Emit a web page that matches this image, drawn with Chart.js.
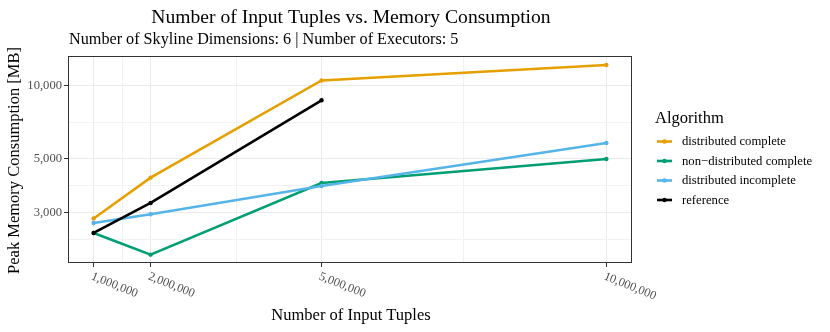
<!DOCTYPE html>
<html><head><meta charset="utf-8">
<script src="https://cdn.jsdelivr.net/npm/chart.js@4/dist/chart.umd.min.js"></script>
<style>html,body{margin:0;padding:0;background:#fff;}#wrap{width:830px;height:332px;}</style>
</head><body><div id="wrap"><canvas id="c" width="830" height="332"></canvas></div>
<script>
// ---- data ----
const tuples = [1000000, 2000000, 5000000, 10000000];
const distributedComplete = [2840, 4180, 10500, 12150];
const nonDistributedComplete = [2475, 2015, 3975, 4990];
const distributedIncomplete = [2720, 2955, 3865, 5805];
const referenceAlg = [2475, 3290, 8700];
const seriesNames = ['distributed complete', 'non\u2212distributed complete', 'distributed incomplete', 'reference'];
const seriesColors = ['#E69F00', '#009E73', '#56B4E9', '#000000'];
const xTickValues = [1000000, 2000000, 5000000, 10000000];
const xTickLabels = ['1,000,000', '2,000,000', '5,000,000', '10,000,000'];
const yTickValues = [3000, 5000, 10000];
const yTickLabels = ['3,000', '5,000', '10,000'];
const titleText = 'Number of Input Tuples vs. Memory Consumption';
const subtitleText = 'Number of Skyline Dimensions: 6 | Number of Executors: 5';
const xTitle = 'Number of Input Tuples';
const yTitle = 'Peak Memory Consumption [MB]';
const legendTitle = 'Algorithm';

const SERIF = '"Liberation Serif", "DejaVu Serif", serif';
const seriesValues = [distributedComplete, nonDistributedComplete, distributedIncomplete, referenceAlg];

// minor breaks (ggplot style: midpoints between majors in transformed space)
const xMinor = [];
for (let i = 0; i < xTickValues.length - 1; i++) xMinor.push((xTickValues[i] + xTickValues[i + 1]) / 2);
const yMinor = [];
{
  const lg = yTickValues.map(v => Math.log10(v));
  const below = lg[0] - (lg[1] - lg[0]);
  yMinor.push(Math.pow(10, (below + lg[0]) / 2));
  for (let i = 0; i < lg.length - 1; i++) yMinor.push(Math.pow(10, (lg[i] + lg[i + 1]) / 2));
}
const xAll = xTickValues.concat(xMinor).sort((a, b) => a - b);
const yAll = yTickValues.concat(yMinor).sort((a, b) => a - b);

const datasets = seriesValues.map((vals, i) => ({
  label: seriesNames[i],
  data: vals.map((v, j) => ({ x: tuples[j], y: v })),
  borderColor: seriesColors[i],
  backgroundColor: seriesColors[i],
  borderWidth: 2.6,
  pointRadius: 2.2,
  pointBorderWidth: 0,
  tension: 0,
  order: 3 - i
}));

const isMajorX = v => xTickValues.includes(v);
const isMajorY = v => yTickValues.some(t => Math.abs(t - v) < 1e-6);

const decorPlugin = {
  id: 'decor',
  afterDatasetsDraw(chart) {
    const ctx = chart.ctx, a = chart.chartArea;
    ctx.save();
    ctx.strokeStyle = '#333333';
    ctx.lineWidth = 1;
    ctx.strokeRect(Math.round(a.left) + 0.5, Math.round(a.top) + 0.5, Math.round(a.right - a.left) - 1, Math.round(a.bottom - a.top) - 1);
    ctx.restore();
  },
  afterDraw(chart) {
    const ctx = chart.ctx, a = chart.chartArea;
    const xs = chart.scales.x;
    ctx.save();
    ctx.fillStyle = '#000';
    // title
    ctx.font = '19.6px ' + SERIF;
    ctx.textAlign = 'center';
    ctx.textBaseline = 'alphabetic';
    ctx.fillText(titleText, (a.left + a.right) / 2 + 1, 23);
    // subtitle
    ctx.font = '16.2px ' + SERIF;
    ctx.textAlign = 'left';
    ctx.fillText(subtitleText, a.left + 1, 44);
    // x tick labels rotated clockwise
    ctx.font = '12.3px ' + SERIF;
    ctx.fillStyle = '#4d4d4d';
    xTickValues.forEach((v, i) => {
      const px = xs.getPixelForValue(v);
      ctx.save();
      ctx.translate(px - 2, a.bottom + 13);
      ctx.rotate(22 * Math.PI / 180);
      ctx.textAlign = 'left';
      ctx.textBaseline = 'middle';
      ctx.fillText(xTickLabels[i], 0, 0);
      ctx.restore();
    });
    // axis titles
    ctx.fillStyle = '#000';
    ctx.font = '16.5px ' + SERIF;
    ctx.textAlign = 'center';
    ctx.textBaseline = 'alphabetic';
    ctx.fillText(xTitle, (a.left + a.right) / 2 + 1, 320);
    ctx.save();
    ctx.translate(19, (a.top + a.bottom) / 2 + 1);
    ctx.rotate(-Math.PI / 2);
    ctx.fillText(yTitle, 0, 0);
    ctx.restore();
    // legend
    ctx.textAlign = 'left';
    ctx.font = '16.5px ' + SERIF;
    ctx.fillText(legendTitle, 655, 123);
    ctx.font = '12.7px ' + SERIF;
    ctx.textBaseline = 'middle';
    seriesNames.forEach((name, i) => {
      const y = 141.5 + i * 19.5;
      ctx.strokeStyle = seriesColors[i];
      ctx.lineWidth = 2.6;
      ctx.beginPath();
      ctx.moveTo(657, y);
      ctx.lineTo(672, y);
      ctx.stroke();
      ctx.fillStyle = seriesColors[i];
      ctx.beginPath();
      ctx.arc(664.5, y, 2.2, 0, Math.PI * 2);
      ctx.fill();
      ctx.fillStyle = '#000';
      ctx.fillText(name, 682, y + 0.5);
    });
    ctx.restore();
  }
};

new Chart(document.getElementById('c'), {
  type: 'line',
  data: { datasets },
  options: {
    responsive: false,
    animation: false,
    devicePixelRatio: 1,
    layout: { padding: { left: 0, top: 56, right: 198, bottom: 0 } },
    plugins: { legend: { display: false }, title: { display: false }, tooltip: { enabled: false } },
    scales: {
      x: {
        type: 'linear',
        min: 550000,
        max: 10450000,
        afterBuildTicks: s => { s.ticks = xAll.map(v => ({ value: v })); },
        afterFit: s => { s.height = 69; },
        ticks: { display: false, autoSkip: false },
        grid: {
          color: c => isMajorX(c.tick.value) ? '#ebebeb' : '#f2f2f2',
          lineWidth: 1,
          tickColor: c => isMajorX(c.tick.value) ? '#333333' : 'rgba(0,0,0,0)',
          tickLength: 4,
          drawTicks: true
        },
        border: { display: false }
      },
      y: {
        type: 'logarithmic',
        min: 1862,
        max: 13240,
        afterBuildTicks: s => { s.ticks = yAll.map(v => ({ value: v })); },
        afterFit: s => { s.width = 68; },
        ticks: {
          autoSkip: false,
          padding: 2,
          color: '#4d4d4d',
          font: { family: SERIF, size: 12.6 },
          callback: v => {
            const k = yTickValues.findIndex(t => Math.abs(t - v) < 1e-6);
            return k >= 0 ? yTickLabels[k] : '';
          }
        },
        grid: {
          color: c => isMajorY(c.tick.value) ? '#ebebeb' : '#f2f2f2',
          lineWidth: 1,
          tickColor: c => isMajorY(c.tick.value) ? '#333333' : 'rgba(0,0,0,0)',
          tickLength: 4,
          drawTicks: true
        },
        border: { display: false }
      }
    }
  },
  plugins: [decorPlugin]
});
</script>
</body></html>
